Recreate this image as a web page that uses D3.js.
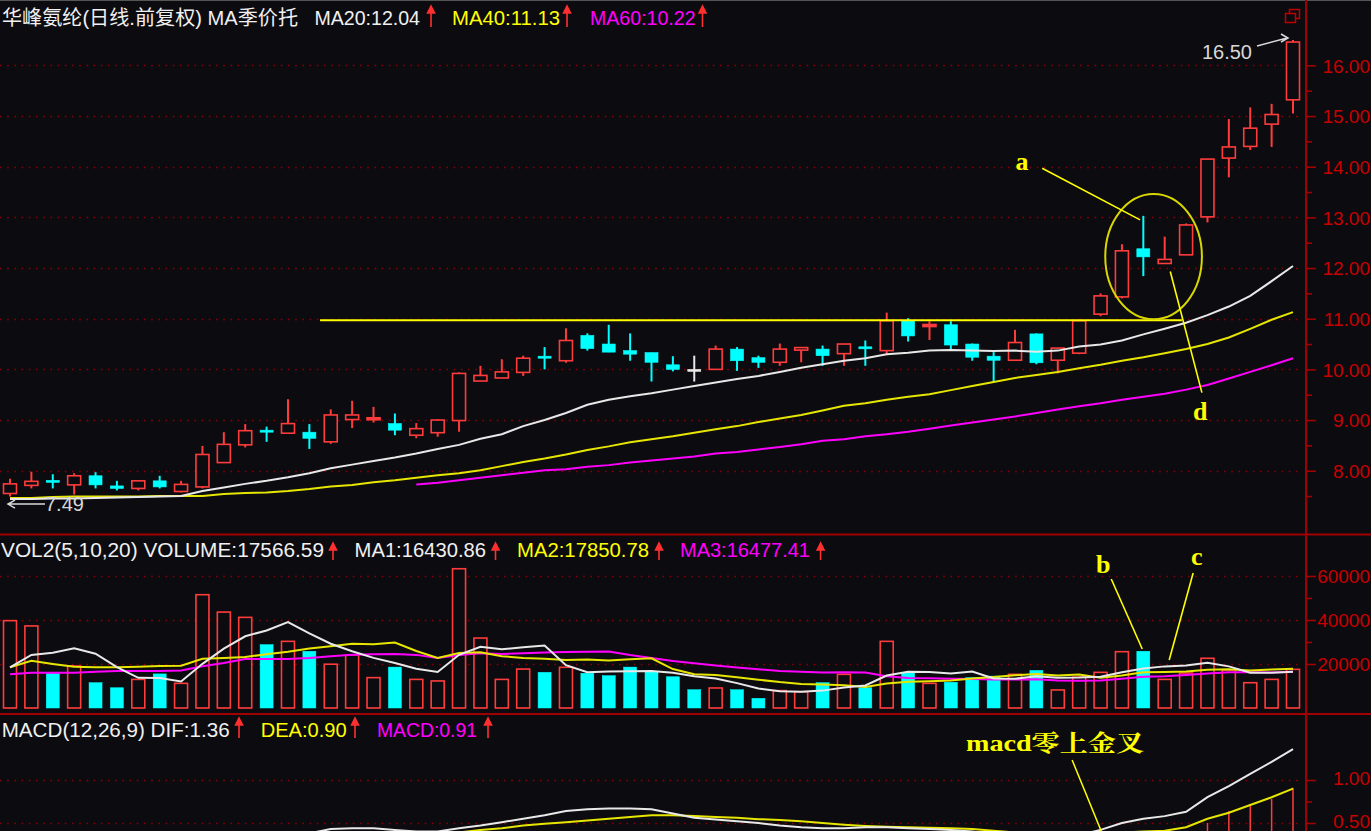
<!DOCTYPE html>
<html><head><meta charset="utf-8">
<script src="https://cdn.jsdelivr.net/npm/d3@7"></script>
<style>html,body{margin:0;padding:0;background:#0c0b10;overflow:hidden}</style>
</head><body><svg id="c" width="1371" height="831"></svg>
<script>
// ---------------- DATA ----------------
const title = "华峰氨纶(日线.前复权) MA季价托";
const opens  = [7.55,7.71,7.80,7.72,7.90,7.70,7.65,7.80,7.59,7.68,8.16,8.51,8.79,8.74,8.76,8.57,9.01,9.02,8.93,8.70,8.75,8.99,9.77,9.83,9.94,10.25,10.17,10.67,10.50,10.37,10.33,10.09,9.98,10.00,10.40,10.23,10.14,10.38,10.40,10.31,10.43,10.37,10.96,10.86,10.88,10.50,10.26,10.18,10.70,10.18,10.32,11.09,11.43,12.38,12.09,12.26,13.01,14.17,14.40,14.84,15.32];
const highs  = [7.84,7.98,7.93,7.95,7.97,7.80,7.80,7.90,7.80,8.49,8.76,8.92,8.87,9.41,8.92,9.21,9.38,9.26,9.13,8.94,9.02,9.94,10.07,10.20,10.27,10.44,10.81,10.71,10.88,10.71,10.33,10.26,10.27,10.47,10.44,10.27,10.51,10.43,10.47,10.50,10.57,11.12,11.01,10.95,10.95,10.51,10.34,10.78,10.71,10.42,10.98,11.50,12.47,13.03,12.62,12.88,14.15,14.94,15.17,15.24,16.50];
const lows   = [7.49,7.65,7.65,7.53,7.65,7.61,7.61,7.65,7.57,7.65,8.16,8.46,8.57,8.74,8.43,8.53,8.84,8.95,8.70,8.64,8.67,8.77,9.77,9.83,9.87,10.00,10.13,10.37,10.34,10.17,9.76,9.96,9.76,10.00,9.97,10.03,10.07,10.14,10.07,10.07,10.07,10.28,10.55,10.58,10.40,10.17,9.75,10.18,10.10,9.92,10.30,11.05,11.40,11.84,12.09,12.26,12.90,13.79,14.33,14.39,15.05];
const closes = [7.74,7.79,7.78,7.90,7.72,7.65,7.80,7.68,7.73,8.32,8.52,8.79,8.77,8.93,8.64,9.10,9.10,9.03,8.80,8.83,9.00,9.92,9.88,9.95,10.22,10.23,10.57,10.41,10.34,10.30,10.14,10.00,9.98,10.40,10.17,10.14,10.40,10.43,10.27,10.50,10.42,10.96,10.66,10.87,10.48,10.24,10.18,10.53,10.13,10.42,10.96,11.45,12.34,12.22,12.17,12.85,14.15,14.39,14.76,15.03,16.46];
const ma20 = [7.44,7.44,7.45,7.45,7.46,7.47,7.48,7.49,7.50,7.60,7.67,7.74,7.80,7.87,7.95,8.05,8.12,8.19,8.26,8.34,8.43,8.51,8.63,8.72,8.88,9.00,9.14,9.30,9.40,9.47,9.53,9.60,9.67,9.74,9.81,9.87,9.95,10.03,10.10,10.17,10.22,10.30,10.33,10.37,10.38,10.37,10.36,10.37,10.35,10.37,10.45,10.49,10.57,10.69,10.80,10.92,11.07,11.24,11.45,11.74,12.04];
const ma40 = [7.46,7.46,7.48,7.49,7.49,7.49,7.49,7.50,7.50,7.50,7.54,7.56,7.57,7.60,7.64,7.69,7.72,7.77,7.81,7.86,7.91,7.95,8.01,8.09,8.17,8.24,8.32,8.41,8.48,8.56,8.62,8.68,8.75,8.82,8.88,8.96,9.03,9.10,9.19,9.28,9.33,9.40,9.46,9.51,9.59,9.67,9.75,9.83,9.89,9.95,10.02,10.09,10.17,10.24,10.32,10.40,10.50,10.63,10.80,10.98,11.13];
const ma60 = [null,null,null,null,null,null,null,null,null,null,null,null,null,null,null,null,null,null,null,7.73,7.76,7.81,7.86,7.91,7.96,8.01,8.03,8.08,8.11,8.16,8.20,8.24,8.28,8.34,8.37,8.42,8.47,8.52,8.59,8.62,8.68,8.72,8.77,8.83,8.89,8.95,9.01,9.07,9.14,9.21,9.27,9.33,9.40,9.46,9.52,9.60,9.69,9.82,9.95,10.08,10.22];
const volumes = [39700,37300,15800,19100,11500,9200,13000,15500,11200,51500,43600,41200,28800,30300,25800,19900,24100,13800,18600,13000,12300,63300,31800,13000,17700,16200,18500,15800,14700,18600,16600,14200,8300,9100,8300,4400,7900,7400,11500,15300,9200,30300,15900,11200,11700,13800,14500,15300,17100,8200,14000,16200,25600,25800,13000,15900,22600,17300,11500,13000,17566.59];
const volMa5  = [18500,24100,25100,27100,24680,18580,13720,13660,12080,20080,26960,32600,35260,39080,33940,29200,25780,22780,20440,17880,16360,24200,27800,26680,27620,28400,19440,16240,16580,16760,16840,15980,14480,13360,11300,8860,7600,7420,7900,9300,10260,14740,16440,16380,15660,16580,13420,13300,14480,13780,13820,14160,16220,17960,18920,19300,20580,18920,16060,16060,16430.86];
const volMa10 = [18500,21500,20000,18700,18500,18500,18800,19100,19200,22380,22770,23160,24460,25580,27010,28080,29190,29020,29760,25910,22780,24990,25290,23560,22750,22380,21820,22020,21630,22190,22620,17710,15360,14970,14030,12850,11790,10950,10630,10300,9560,11170,11930,12140,12480,13420,14080,14870,15430,14720,15200,13790,14760,16220,16350,16560,17370,17570,17010,17490,17850.78];
const volMa20 = [15300,16000,16000,16000,16500,16800,16800,16800,17000,19000,20500,22300,22300,22300,22700,23500,24200,24400,24500,24145,22775,24075,24875,24570,24880,25230,25505,25520,25695,24050,22700,21350,20325,19265,18390,17615,16805,16485,16130,16245,16090,14440,13645,13555,13255,13135,12935,12910,13030,12510,12380,12480,13345,14180,14415,14990,15725,16220,16220,16105,16477.41];
const dif  = [0.05,0.06,0.07,0.08,0.08,0.08,0.08,0.08,0.08,0.14,0.20,0.26,0.30,0.36,0.38,0.43,0.44,0.44,0.42,0.40,0.40,0.44,0.47,0.51,0.55,0.59,0.64,0.66,0.67,0.67,0.66,0.61,0.56,0.54,0.52,0.50,0.47,0.45,0.44,0.44,0.45,0.45,0.44,0.43,0.42,0.40,0.37,0.35,0.33,0.33,0.36,0.42,0.50,0.55,0.58,0.63,0.80,0.93,1.07,1.21,1.36];
const dea  = [0.03,0.04,0.05,0.05,0.06,0.06,0.07,0.07,0.07,0.08,0.10,0.13,0.16,0.20,0.23,0.27,0.30,0.33,0.35,0.36,0.37,0.39,0.42,0.44,0.47,0.49,0.51,0.53,0.55,0.57,0.59,0.59,0.58,0.57,0.56,0.545,0.535,0.52,0.50,0.48,0.465,0.455,0.45,0.445,0.44,0.43,0.41,0.39,0.37,0.36,0.36,0.37,0.39,0.40,0.41,0.45,0.55,0.62,0.71,0.80,0.90];
const macdHist = [0.04,0.04,0.04,0.06,0.04,0.04,0.02,0.02,0.02,0.12,0.20,0.26,0.28,0.32,0.30,0.32,0.28,0.22,0.14,0.08,0.06,0.10,0.10,0.14,0.16,0.20,0.26,0.26,0.24,0.20,0.14,0.04,-0.04,-0.06,-0.08,-0.09,-0.13,-0.14,-0.12,-0.08,-0.03,-0.01,-0.02,-0.03,-0.04,-0.06,-0.08,-0.08,-0.08,-0.06,0.00,0.10,0.22,0.30,0.32,0.36,0.50,0.64,0.72,0.78,0.91];
const priceTicks = [8,9,10,11,12,13,14,15,16];
const priceMinor = [7.5,8.5,9.5,10.5,11.5,12.5,13.5,14.5,15.5];
const volTicks = [20000,40000,60000];
const volMinor = [30000,50000];
const macdTicks = [0.5,1.0];
const macdMinor = [0.75];
// annotations in data units (candle index, value)
const supportLine = {price:10.97, from:14.5, to:54.8};
const circleMark = {i0:51.22, i1:55.74, p0:10.99, p1:13.46};
const priceNotes = [
  {label:"a", ti:47.33, tp:13.93, li0:48.27, lp0:13.97, li1:52.85, lp1:12.95},
  {label:"d", ti:55.66, tp:9.00,  li0:54.26, lp0:11.93, li1:55.74, lp1:9.54}
];
const volNotes = [
  {label:"b", ti:51.12, tv:61364, li0:51.5, lv0:58636, li1:52.95, lv1:26818},
  {label:"c", ti:55.5,  tv:65000, li0:55.33, lv0:61364, li1:54.21, lv1:21818}
];
const macdNote = {label:"macd零上金叉", ti:44.71, tv:1.337, li0:49.67, lv0:1.233, li1:51.03, lv1:0.407};

// ---------------- DRAW ----------------
const W=1371, H=831, AX=1306;
const BG="#0c0b10", RED="#ff3c3c", CYAN="#00ffff", WHITE="#e8e8e8", YEL="#e6e600", MAG="#ff00ff",
      AXC="#a00000", GRID="#8a0000", LBL="#c80000", NOTE="#ffff00";
const FONT="'Liberation Sans', Arial, 'Noto Sans CJK SC', sans-serif";
const svg = d3.select("#c");
svg.append("rect").attr("width",W).attr("height",H).attr("fill",BG);

const N = closes.length;
const x = d3.scaleLinear().domain([0,N-1]).range([10,1293]);
const yP = d3.scaleLinear().domain([8,16]).range([470.7,65.35]);
const yV = d3.scaleLinear().domain([0,60000]).range([708,576]);
const yM = d3.scaleLinear().domain([0.5,1.0]).range([823,780]);

const defs = svg.append("defs");
function clip(id,y0,y1){defs.append("clipPath").attr("id",id).append("rect").attr("x",0).attr("y",y0).attr("width",AX-1).attr("height",y1-y0);}
clip("cp",28,533); clip("cv",537,713); clip("cm",716,831);

// top border
svg.append("line").attr("x1",0).attr("x2",W).attr("y1",0.5).attr("y2",0.5).attr("stroke","#555").attr("stroke-width",1);

// grids
function grid(vals, scale){
  svg.append("g").selectAll("line").data(vals).join("line")
    .attr("x1",0).attr("x2",AX-3).attr("y1",d=>Math.round(scale(d))+0.5).attr("y2",d=>Math.round(scale(d))+0.5)
    .attr("stroke",GRID).attr("stroke-width",1.6).attr("stroke-dasharray","1.6,5.6");
}
grid(priceTicks,yP); grid(volTicks,yV); grid(macdTicks,yM);

// separators & axis line
[534.5,714].forEach(yy=>svg.append("line").attr("x1",0).attr("x2",W).attr("y1",yy).attr("y2",yy).attr("stroke",AXC).attr("stroke-width",2));
svg.append("line").attr("x1",AX).attr("x2",AX).attr("y1",0).attr("y2",H).attr("stroke",AXC).attr("stroke-width",2);

function rightAxis(scale, major, minor, fmt, dy){
  const g = svg.append("g").attr("transform",`translate(${AX},0)`);
  g.call(d3.axisRight(scale).tickValues(major).tickSize(10).tickFormat(fmt));
  g.select(".domain").remove();
  g.selectAll(".tick line").attr("stroke",AXC).attr("stroke-width",1.6);
  g.selectAll(".tick text").attr("x",64).attr("text-anchor","end").attr("fill",LBL)
    .style("font-family",FONT).style("font-size","19px").attr("dy",dy||"0.36em");
  const g2 = svg.append("g").attr("transform",`translate(${AX},0)`);
  g2.call(d3.axisRight(scale).tickValues(minor).tickSize(6).tickFormat(""));
  g2.select(".domain").remove();
  g2.selectAll(".tick line").attr("stroke",AXC).attr("stroke-width",1.6);
}
rightAxis(yP, priceTicks, priceMinor, d3.format(".2f"));
rightAxis(yV, volTicks, volMinor, d3.format("d"));
rightAxis(yM, macdTicks, macdMinor, d3.format(".2f"), "0.22em");

// ---- price panel ----
const gP = svg.append("g").attr("clip-path","url(#cp)");
const cand = d3.range(N).map(i=>({i,o:opens[i],h:highs[i],l:lows[i],c:closes[i]}));
const colOf = d=> d.c>d.o ? RED : (d.c===d.o ? WHITE : CYAN);
gP.append("g").selectAll("line").data(cand).join("line")
  .attr("x1",d=>x(d.i)).attr("x2",d=>x(d.i)).attr("y1",d=>yP(d.h)).attr("y2",d=>yP(d.l))
  .attr("stroke",colOf).attr("stroke-width",2);
gP.append("g").selectAll("rect").data(cand).join("rect")
  .attr("x",d=>x(d.i)-6.5).attr("width",13)
  .attr("y",d=>{const t=yP(Math.max(d.o,d.c)), b=yP(Math.min(d.o,d.c)); return b-t<2 ? (t+b)/2-1 : t;})
  .attr("height",d=>Math.max(yP(Math.min(d.o,d.c))-yP(Math.max(d.o,d.c)),2))
  .attr("fill",d=>{const hgt=yP(Math.min(d.o,d.c))-yP(Math.max(d.o,d.c)); return (d.c>d.o && hgt>=2)?BG:colOf(d);})
  .attr("stroke",colOf).attr("stroke-width",d=>d.c>d.o?1.6:0.6);

function maLine(g, arr, scale, color, w){
  const line = d3.line().defined(d=>d!=null).x((d,i)=>x(i)).y(d=>scale(d));
  g.append("path").datum(arr).attr("d",line).attr("fill","none").attr("stroke",color).attr("stroke-width",w||2);
}
maLine(gP, ma60, yP, MAG); maLine(gP, ma40, yP, YEL); maLine(gP, ma20, yP, WHITE);

// support line
gP.append("line").attr("x1",x(supportLine.from)).attr("x2",x(supportLine.to))
  .attr("y1",yP(supportLine.price)).attr("y2",yP(supportLine.price)).attr("stroke",NOTE).attr("stroke-width",2);
// circle
svg.append("ellipse")
  .attr("cx",(x(circleMark.i0)+x(circleMark.i1))/2).attr("cy",(yP(circleMark.p0)+yP(circleMark.p1))/2)
  .attr("rx",(x(circleMark.i1)-x(circleMark.i0))/2).attr("ry",(yP(circleMark.p0)-yP(circleMark.p1))/2)
  .attr("fill","none").attr("stroke","#d8d800").attr("stroke-width",2);
// notes
const NFONT = "'Liberation Serif','Noto Serif CJK SC','Noto Sans CJK SC',serif";
function note(n, scaleY, tv, v0, v1){
  svg.append("line").attr("x1",x(n.li0)).attr("y1",scaleY(v0)).attr("x2",x(n.li1)).attr("y2",scaleY(v1))
    .attr("stroke",NOTE).attr("stroke-width",1.6);
  svg.append("text").attr("x",x(n.ti)).attr("y",scaleY(tv)).attr("text-anchor","middle")
    .attr("fill",NOTE).style("font-family",NFONT).style("font-weight","bold").style("font-size","26px").text(n.label);
}
priceNotes.forEach(n=>note(n,yP,n.tp,n.lp0,n.lp1));
volNotes.forEach(n=>note(n,yV,n.tv,n.lv0,n.lv1));

// high / low markers
const hiI = d3.maxIndex(highs), loI = d3.minIndex(lows);
const hx = x(hiI), hy = yP(highs[hiI]);
svg.append("text").attr("x",hx-41).attr("y",hy+19).attr("text-anchor","end").attr("fill","#d8d8d8")
  .style("font-family",FONT).style("font-size","20px").text(highs[hiI].toFixed(2));
svg.append("path").attr("d",`M${hx-36},${hy+6} L${hx-6},${hy-2} M${hx-12},${hy-6} L${hx-5},${hy-2} L${hx-12},${hy+2}`)
  .attr("fill","none").attr("stroke","#d8d8d8").attr("stroke-width",1.5);
const lx = x(loI), ly = yP(lows[loI]);
svg.append("path").attr("d",`M${lx-2},${ly+7.5} L${lx+35},${ly+7.5} M${lx+5},${ly+3.5} L${lx-2},${ly+7.5} L${lx+5},${ly+11.5}`)
  .attr("fill","none").attr("stroke","#d8d8d8").attr("stroke-width",1.5);
svg.append("text").attr("x",lx+35).attr("y",ly+14).attr("fill","#d8d8d8")
  .style("font-family",FONT).style("font-size","20px").text(lows[loI].toFixed(2));

// ---- volume panel ----
const gV = svg.append("g").attr("clip-path","url(#cv)");
const vol = d3.range(N).map(i=>({i,v:volumes[i],up:closes[i]>opens[i]}));
gV.append("g").selectAll("rect").data(vol).join("rect")
  .attr("x",d=>x(d.i)-6.5).attr("width",13).attr("y",d=>yV(d.v)).attr("height",d=>yV(0)-yV(d.v))
  .attr("fill",d=>d.up?BG:CYAN).attr("stroke",d=>d.up?RED:CYAN).attr("stroke-width",d=>d.up?1.6:0.5);
maLine(gV, volMa20, yV, MAG); maLine(gV, volMa10, yV, YEL); maLine(gV, volMa5, yV, WHITE);

// ---- macd panel ----
const gM = svg.append("g").attr("clip-path","url(#cm)");
gM.append("g").selectAll("line").data(macdHist).join("line")
  .attr("x1",(d,i)=>x(i)).attr("x2",(d,i)=>x(i)).attr("y1",yM(0)).attr("y2",d=>yM(d))
  .attr("stroke",d=>d>=0?RED:CYAN).attr("stroke-width",1.5);
maLine(gM, dea, yM, YEL); maLine(gM, dif, yM, WHITE);
svg.append("line").attr("x1",x(macdNote.li0)).attr("y1",yM(macdNote.lv0)).attr("x2",x(macdNote.li1)).attr("y2",yM(macdNote.lv1))
  .attr("stroke",NOTE).attr("stroke-width",1.5);
svg.append("text").attr("x",x(macdNote.ti)).attr("y",yM(macdNote.tv)).attr("fill",NOTE)
  .attr("textLength",178).attr("lengthAdjust","spacingAndGlyphs")
  .style("font-family",NFONT).style("font-weight","bold").style("font-size","23px").text(macdNote.label);

// ---- headers ----
function arrow(ax, top, bot){
  svg.append("path").attr("d",`M${ax},${top+5} L${ax},${bot} M${ax-3.5},${top+7} L${ax},${top} L${ax+3.5},${top+7} Z`)
    .attr("fill","#ff3030").attr("stroke","#ff3030").attr("stroke-width",1.6);
}
function header(items, base, atop, abot){
  items.forEach(it=>{
    svg.append("text").attr("x",it.x).attr("y",base).attr("fill",it.c)
      .attr("textLength",it.w).attr("lengthAdjust","spacingAndGlyphs")
      .style("font-family",FONT).style("font-size","20px").text(it.t);
    if(it.a!=null) arrow(it.a, atop, abot);
  });
}
const f2 = d3.format(".2f");
header([
  {t:title, x:2, w:296, c:"#f0f0f0"},
  {t:"MA20:"+f2(ma20[N-1]), x:314.5, w:105.5, c:"#f0f0f0", a:431},
  {t:"MA40:"+f2(ma40[N-1]), x:452, w:108, c:"#ffff00", a:567},
  {t:"MA60:"+f2(ma60[N-1]), x:590, w:105.6, c:"#ff00ff", a:702.5}
], 25, 6, 27);
header([
  {t:"VOL2(5,10,20) VOLUME:"+f2(volumes[N-1]), x:1, w:323, c:"#f0f0f0", a:333},
  {t:"MA1:"+f2(volMa5[N-1]), x:354.6, w:131.4, c:"#f0f0f0", a:495.5},
  {t:"MA2:"+f2(volMa10[N-1]), x:517, w:132, c:"#ffff00", a:659},
  {t:"MA3:"+f2(volMa20[N-1]), x:680, w:130, c:"#ff00ff", a:820.6}
], 557, 543, 560);
header([
  {t:"MACD(12,26,9) DIF:"+f2(dif[N-1]), x:1.7, w:228, c:"#f0f0f0", a:239},
  {t:"DEA:"+f2(dea[N-1]), x:260.7, w:86, c:"#ffff00", a:355},
  {t:"MACD:"+f2(macdHist[N-1]), x:377, w:100, c:"#ff00ff", a:488}
], 737, 718, 738);

// window icon top-right
svg.append("rect").attr("x",1289.5).attr("y",9.5).attr("width",10).attr("height",9).attr("fill",BG).attr("stroke","#c00000").attr("stroke-width",1.5);
svg.append("rect").attr("x",1285.5).attr("y",13.5).attr("width",10).attr("height",9).attr("fill",BG).attr("stroke","#c00000").attr("stroke-width",1.5);
</script></body></html>
